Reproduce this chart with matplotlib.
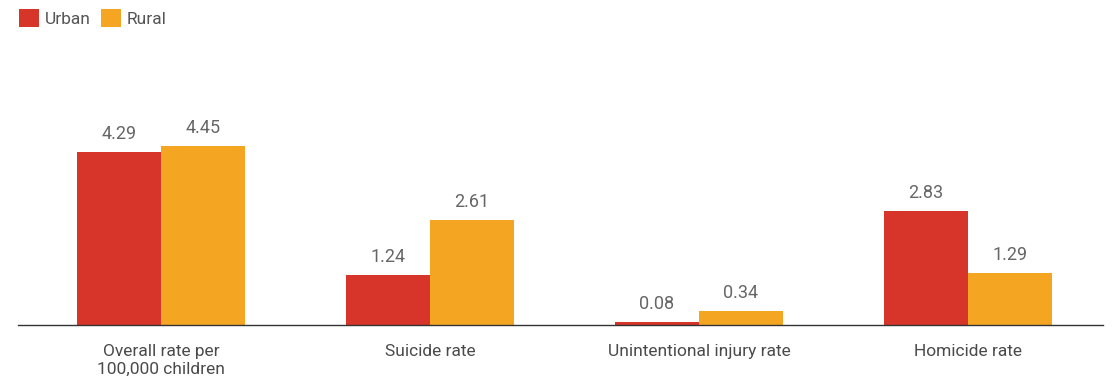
import numpy as np
import matplotlib.pyplot as plt

plt.rcParams["font.family"] = ["Roboto", "DejaVu Sans"]

categories = ["Overall rate per\n100,000 children", "Suicide rate",
              "Unintentional injury rate", "Homicide rate"]
urban = [4.29, 1.24, 0.08, 2.83]
rural = [4.45, 2.61, 0.34, 1.29]

red = "#d8352a"
orange = "#f4a623"
grey = "#666666"

fig = plt.figure(figsize=(11.15, 3.79), dpi=100)
ax = fig.add_axes([18 / 1115, 54 / 379, 1085 / 1115, 285 / 379])

x = np.arange(len(categories))
w = 0.312
b1 = ax.bar(x - w / 2, urban, w, color=red, label="Urban")
b2 = ax.bar(x + w / 2, rural, w, color=orange, label="Rural")

for bars, vals in [(b1, urban), (b2, rural)]:
    for bar, v in zip(bars, vals):
        ax.annotate(f"{v:.2f}", (bar.get_x() + bar.get_width() / 2, v),
                    xytext=(0, 6.5), textcoords="offset points",
                    ha="center", va="bottom", fontsize=13, color=grey)

ax.set_xlim(-0.532, 3.502)
ax.set_ylim(0, 7.07)
ax.set_xticks(x)
ax.set_xticklabels(categories, fontsize=12.5, color="#4a4a4a")
ax.tick_params(axis="x", length=0, pad=14)
ax.set_yticks([])
for s in ["top", "right", "left"]:
    ax.spines[s].set_visible(False)
ax.spines["bottom"].set_color("#333333")
ax.spines["bottom"].set_linewidth(1)

fig.legend(handles=[b1, b2], loc="upper left", bbox_to_anchor=(0.011, 0.995),
           ncol=2, frameon=False, fontsize=12.5, handlelength=1.15,
           handleheight=1.2, handletextpad=0.35, columnspacing=0.55,
           labelcolor="#555555", borderaxespad=0)

fig.savefig("out.png", dpi=100)
